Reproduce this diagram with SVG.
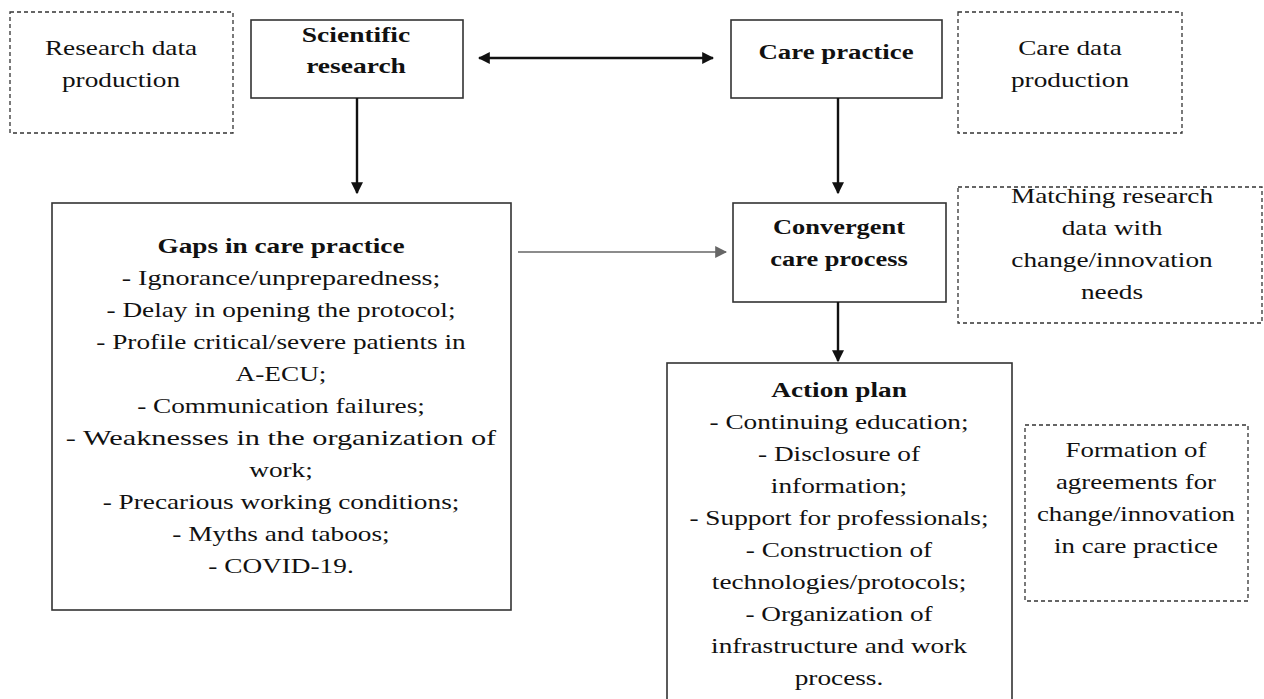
<svg xmlns="http://www.w3.org/2000/svg" width="1264" height="699" viewBox="0 0 1264 699">
<defs>
<style>
.box{fill:#fff;stroke:#333;stroke-width:1.6}
.dash{fill:none;stroke:#333;stroke-width:1.3;stroke-dasharray:4 3}
.t{font-family:"Liberation Serif","Times New Roman",serif;font-size:22px;fill:#111;text-anchor:middle}
.b{font-weight:bold}
.con{stroke:#111;stroke-width:2.4;fill:none}
.gray{stroke:#666;stroke-width:1.5;fill:none}
</style>
<marker id="ah" viewBox="0 0 10 10" refX="9" refY="5" markerWidth="5" markerHeight="5" orient="auto-start-reverse" markerUnits="strokeWidth">
<path d="M0,0 L10,5 L0,10 z" fill="#111"/>
</marker>
<marker id="ahg" viewBox="0 0 10 10" refX="9" refY="5" markerWidth="8" markerHeight="8" orient="auto" markerUnits="strokeWidth">
<path d="M0,0 L10,5 L0,10 z" fill="#666"/>
</marker>
</defs>
<rect width="1264" height="699" fill="#fff"/>

<g id="research-data">
<rect class="dash" x="10" y="12" width="223" height="121"/>
<g transform="translate(121,0) scale(1.24,1)">
<text class="t" x="0" y="55">Research data</text>
<text class="t" x="0" y="87">production</text>
</g>
</g>

<g id="scientific-research">
<rect class="box" x="251" y="20" width="212" height="78"/>
<g transform="translate(356,0) scale(1.25,1)">
<text class="t b" x="0" y="42">Scientific</text>
<text class="t b" x="0" y="73">research</text>
</g>
</g>

<g id="care-practice">
<rect class="box" x="731" y="20" width="211" height="78"/>
<g transform="translate(836,0) scale(1.22,1)">
<text class="t b" x="0" y="59">Care practice</text>
</g>
</g>

<g id="care-data">
<rect class="dash" x="958" y="12" width="224" height="121"/>
<g transform="translate(1070,0) scale(1.24,1)">
<text class="t" x="0" y="55">Care data</text>
<text class="t" x="0" y="87">production</text>
</g>
</g>

<g id="gaps">
<rect class="box" x="52" y="203" width="459" height="407"/>
<g transform="translate(281,0) scale(1.24,1)">
<text class="t b" x="0" y="253">Gaps in care practice</text>
<text class="t" x="0" y="285" textLength="257" lengthAdjust="spacingAndGlyphs">- Ignorance/unpreparedness;</text>
<text class="t" x="0" y="317">- Delay in opening the protocol;</text>
<text class="t" x="0" y="349">- Profile critical/severe patients in</text>
<text class="t" x="0" y="381">A-ECU;</text>
<text class="t" x="0" y="413">- Communication failures;</text>
<text class="t" x="0" y="445" textLength="347" lengthAdjust="spacingAndGlyphs">- Weaknesses in the organization of</text>
<text class="t" x="0" y="477">work;</text>
<text class="t" x="0" y="509">- Precarious working conditions;</text>
<text class="t" x="0" y="541">- Myths and taboos;</text>
<text class="t" x="0" y="573">- COVID-19.</text>
</g>
</g>

<g id="convergent">
<rect class="box" x="733" y="203" width="213" height="99"/>
<g transform="translate(839,0) scale(1.2,1)">
<text class="t b" x="0" y="234">Convergent</text>
<text class="t b" x="0" y="266">care process</text>
</g>
</g>

<g id="matching">
<rect class="dash" x="958" y="187" width="304" height="136"/>
<g transform="translate(1112,0) scale(1.24,1)">
<text class="t" x="0" y="203">Matching research</text>
<text class="t" x="0" y="235">data with</text>
<text class="t" x="0" y="267">change/innovation</text>
<text class="t" x="0" y="299">needs</text>
</g>
</g>

<g id="action-plan">
<rect class="box" x="667" y="363" width="345" height="345"/>
<g transform="translate(839,0) scale(1.24,1)">
<text class="t b" x="0" y="397">Action plan</text>
<text class="t" x="0" y="429">- Continuing education;</text>
<text class="t" x="0" y="461">- Disclosure of</text>
<text class="t" x="0" y="493">information;</text>
<text class="t" x="0" y="525">- Support for professionals;</text>
<text class="t" x="0" y="557">- Construction of</text>
<text class="t" x="0" y="589">technologies/protocols;</text>
<text class="t" x="0" y="621">- Organization of</text>
<text class="t" x="0" y="653">infrastructure and work</text>
<text class="t" x="0" y="685">process.</text>
</g>
</g>

<g id="formation">
<rect class="dash" x="1025" y="425" width="223" height="176"/>
<g transform="translate(1136,0) scale(1.22,1)">
<text class="t" x="0" y="457">Formation of</text>
<text class="t" x="0" y="489">agreements for</text>
<text class="t" x="0" y="521">change/innovation</text>
<text class="t" x="0" y="553">in care practice</text>
</g>
</g>

<g id="connectors">
<line class="con" x1="479" y1="58" x2="713" y2="58" marker-start="url(#ah)" marker-end="url(#ah)"/>
<line class="con" x1="357" y1="98" x2="357" y2="193" marker-end="url(#ah)"/>
<line class="con" x1="838" y1="98" x2="838" y2="193" marker-end="url(#ah)"/>
<line class="con" x1="838" y1="302" x2="838" y2="361" marker-end="url(#ah)"/>
<line class="gray" x1="518" y1="252" x2="726" y2="252" marker-end="url(#ahg)"/>
</g>
</svg>
